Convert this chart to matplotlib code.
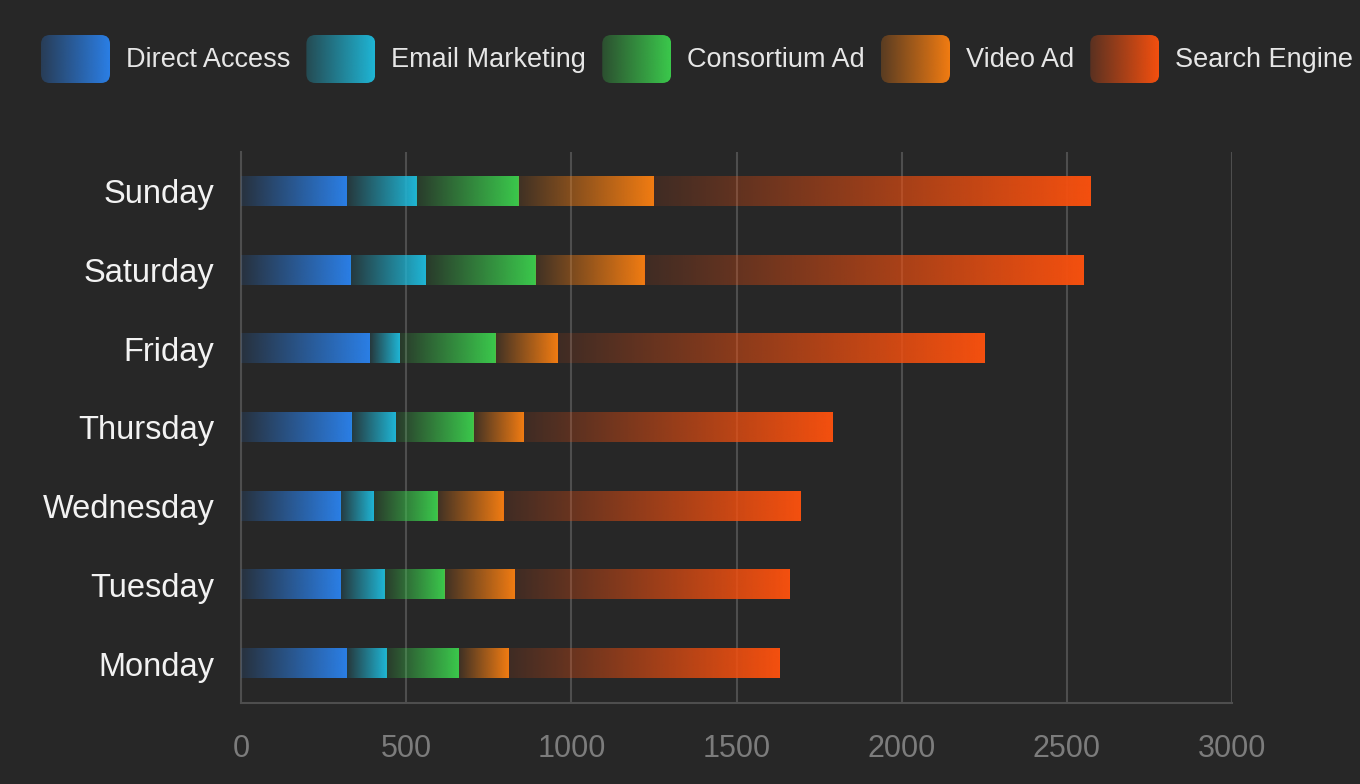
import numpy as np
import matplotlib.pyplot as plt
from matplotlib.colors import to_rgb
from matplotlib.patches import FancyBboxPatch

# data
days = ['Monday', 'Tuesday', 'Wednesday', 'Thursday', 'Friday', 'Saturday', 'Sunday']
series_names = ['Direct Access', 'Email Marketing', 'Consortium Ad', 'Video Ad', 'Search Engine']
direct_access = [320, 302, 301, 334, 390, 330, 320]
email_marketing = [120, 132, 101, 134, 90, 230, 210]
consortium_ad = [220, 182, 191, 234, 290, 330, 310]
video_ad = [150, 212, 201, 154, 190, 330, 410]
search_engine = [820, 832, 901, 934, 1290, 1330, 1320]
series_values = [direct_access, email_marketing, consortium_ad, video_ad, search_engine]
colors = ['#2b7fe6', '#1fb6d6', '#3bc94c', '#f27c12', '#f5500f']
x_ticks = [0, 500, 1000, 1500, 2000, 2500, 3000]

BG = '#272727'
GRID = '#4e4e4e'
plt.rcParams['font.family'] = ['Liberation Sans', 'DejaVu Sans']


def gradient(color, n=256, a0=0.12):
    r, g, b = to_rgb(color)
    img = np.zeros((1, n, 4))
    img[..., 0], img[..., 1], img[..., 2] = r, g, b
    img[..., 3] = np.linspace(a0, 1.0, n)
    return img


fig = plt.figure(figsize=(13.6, 7.84), dpi=100, facecolor=BG)
ax = fig.add_axes([241 / 1360, 81 / 784, 991 / 1360, 551 / 784], facecolor=BG)

bar_h = 0.37
ypos = np.arange(len(days))
left = np.zeros(len(days))
for vals, col in zip(series_values, colors):
    for i, v in enumerate(vals):
        ax.imshow(gradient(col), extent=[left[i], left[i] + v, ypos[i] - bar_h / 2, ypos[i] + bar_h / 2],
                  aspect='auto', interpolation='bilinear', zorder=3)
    left += np.array(vals)

ax.set_xlim(0, 3000)
ax.set_ylim(-0.5, len(days) - 0.5)
ax.set_xticks(x_ticks)
ax.set_xticklabels([str(t) for t in x_ticks])
ax.set_yticks(ypos)
ax.set_yticklabels(days)
ax.grid(axis='x', color=GRID, linewidth=1.5, zorder=0)
ax.set_axisbelow(True)
for s in ['top', 'right']:
    ax.spines[s].set_visible(False)
for s in ['left', 'bottom']:
    ax.spines[s].set_color(GRID)
    ax.spines[s].set_linewidth(1.5)
ax.tick_params(axis='y', length=0, pad=19, labelsize=23.5, labelcolor='#f2f2f2')
ax.tick_params(axis='x', length=0, pad=22, labelsize=22, labelcolor='#7c7c7c')

# legend drawn in pixel coordinates
lg = fig.add_axes([0, 0, 1, 1], facecolor='none')
lg.set_axis_off()
renderer = fig.canvas.get_renderer()
x = 41
box_w, box_h, box_y = 69, 48, 35
for name, col in zip(series_names, colors):
    patch = FancyBboxPatch((x, box_y), box_w, box_h, boxstyle='round,pad=0,rounding_size=9',
                           facecolor='none', edgecolor='none')
    lg.add_patch(patch)
    im = lg.imshow(gradient(col, a0=0.25), extent=[x, x + box_w, box_y + box_h, box_y],
                   aspect='auto', interpolation='bilinear')
    im.set_clip_path(patch)
    lg.set_xlim(0, 1360)
    lg.set_ylim(784, 0)
    t = lg.text(x + box_w + 16, box_y + box_h / 2 + 1, name, fontsize=19.5, color='#e6e6e6',
                va='center', ha='left')
    bb = t.get_window_extent(renderer)
    x = bb.x1 + 16
lg.set_xlim(0, 1360)
lg.set_ylim(784, 0)

fig.savefig('out.png', dpi=100, facecolor=BG)
